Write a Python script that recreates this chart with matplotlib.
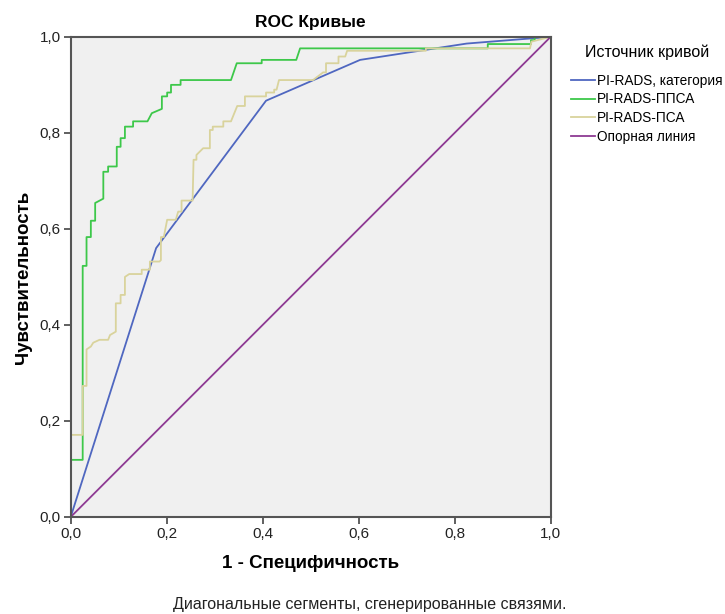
import matplotlib
matplotlib.use("Agg")
import matplotlib.pyplot as plt
from matplotlib.ticker import FuncFormatter

plt.rcParams['font.family'] = ['Liberation Sans', 'DejaVu Sans']

# PI-RADS, категория (polyline between category cut-offs)
cat_fpr = [0.0, 0.178, 0.407, 0.603, 0.825, 1.0]
cat_tpr = [0.0, 0.560, 0.867, 0.952, 0.986, 1.0]

# PI-RADS-ППСА
ppsa_fpr = [0.0, 0.0, 0.025, 0.025, 0.033, 0.033, 0.042, 0.042, 0.051, 0.051,
            0.068, 0.068, 0.078, 0.078, 0.096, 0.096, 0.104, 0.104, 0.113, 0.113,
            0.130, 0.130, 0.160, 0.169, 0.190, 0.190, 0.201, 0.201, 0.209, 0.209,
            0.229, 0.229, 0.334, 0.346, 0.398, 0.398, 0.470, 0.478, 0.869, 0.869,
            0.959, 0.959, 0.967, 0.967, 1.0]
ppsa_tpr = [0.0, 0.119, 0.119, 0.523, 0.523, 0.583, 0.583, 0.617, 0.617, 0.654,
            0.663, 0.719, 0.719, 0.730, 0.730, 0.771, 0.771, 0.789, 0.789, 0.813,
            0.813, 0.824, 0.824, 0.841, 0.850, 0.876, 0.876, 0.884, 0.884, 0.900,
            0.900, 0.910, 0.910, 0.945, 0.945, 0.952, 0.952, 0.976, 0.976, 0.985,
            0.985, 0.993, 0.993, 1.0, 1.0]

# PI-RADS-ПСА
psa_fpr = [0.0, 0.0, 0.025, 0.025, 0.033, 0.033, 0.042, 0.047, 0.060, 0.078,
           0.082, 0.094, 0.094, 0.104, 0.104, 0.113, 0.113, 0.122, 0.148, 0.148,
           0.165, 0.165, 0.185, 0.188, 0.188, 0.194, 0.201, 0.219, 0.224, 0.231,
           0.231, 0.254, 0.256, 0.262, 0.262, 0.276, 0.290, 0.290, 0.296, 0.296,
           0.318, 0.318, 0.334, 0.347, 0.363, 0.363, 0.407, 0.407, 0.424, 0.424,
           0.429, 0.434, 0.505, 0.526, 0.532, 0.532, 0.558, 0.558, 0.572, 0.576,
           0.740, 0.740, 0.957, 0.960, 1.0]
psa_tpr = [0.0, 0.171, 0.171, 0.273, 0.273, 0.349, 0.355, 0.363, 0.369, 0.369,
           0.379, 0.386, 0.445, 0.445, 0.4625, 0.4625, 0.500, 0.506, 0.506, 0.515,
           0.515, 0.532, 0.532, 0.535, 0.583, 0.583, 0.619, 0.619, 0.636, 0.636,
           0.659, 0.659, 0.744, 0.744, 0.754, 0.768, 0.768, 0.806, 0.806, 0.813,
           0.813, 0.824, 0.824, 0.856, 0.856, 0.876, 0.876, 0.884, 0.884, 0.890,
           0.890, 0.910, 0.910, 0.926, 0.926, 0.945, 0.945, 0.959, 0.959, 0.971,
           0.971, 0.976, 0.976, 0.990, 1.0]

ref_x = [0.0, 1.0]
ref_y = [0.0, 1.0]

labels = ["PI-RADS, категория", "PI-RADS-ППСА", "PI-RADS-ПСА", "Опорная линия"]
ticks = [0.0, 0.2, 0.4, 0.6, 0.8, 1.0]

fig = plt.figure(figsize=(7.25, 6.14), dpi=100)
ax = fig.add_axes([0.0975, 0.158, 0.662, 0.782])
ax.set_facecolor("#F0F0F0")

ax.plot(cat_fpr, cat_tpr, color="#4F67C0", lw=1.3, label=labels[0])
ax.plot(ppsa_fpr, ppsa_tpr, color="#3DC84A", lw=1.3, label=labels[1])
ax.plot(psa_fpr, psa_tpr, color="#D9D39C", lw=1.3, label=labels[2])
ax.plot(ref_x, ref_y, color="#8E3A93", lw=1.3, label=labels[3])

ax.set_xlim(0, 1)
ax.set_ylim(0, 1)
ax.set_xticks(ticks)
ax.set_yticks(ticks)
fmt = FuncFormatter(lambda v, p: f"{v:.1f}".replace(".", ","))
ax.xaxis.set_major_formatter(fmt)
ax.yaxis.set_major_formatter(fmt)
ax.tick_params(direction="out", length=5, width=1.2, color="#444444",
               labelsize=11, labelcolor="#222222", pad=2)
for s in ax.spines.values():
    s.set_color("#555555")
    s.set_linewidth(1.5)

ax.set_title("ROC Кривые", fontsize=12.5, fontweight="bold", pad=7)
ax.set_xlabel("1 - Специфичность", fontsize=13.5, fontweight="bold", labelpad=10)
ax.set_ylabel("Чувствительность", fontsize=13.5, fontweight="bold", labelpad=6)

leg = ax.legend(loc="upper left", bbox_to_anchor=(0.787, 0.928),
                bbox_transform=fig.transFigure, frameon=False,
                title="Источник кривой", fontsize=9.8, title_fontsize=11.5,
                handlelength=1.8, handletextpad=0.15, labelspacing=0.35,
                borderaxespad=0, borderpad=0)
leg._legend_box.sep = 10

fig.text(0.51, 0.003, "Диагональные сегменты, сгенерированные связями.",
         ha="center", va="bottom", fontsize=11.5, color="#222222")

fig.savefig("out.png", dpi=100)
